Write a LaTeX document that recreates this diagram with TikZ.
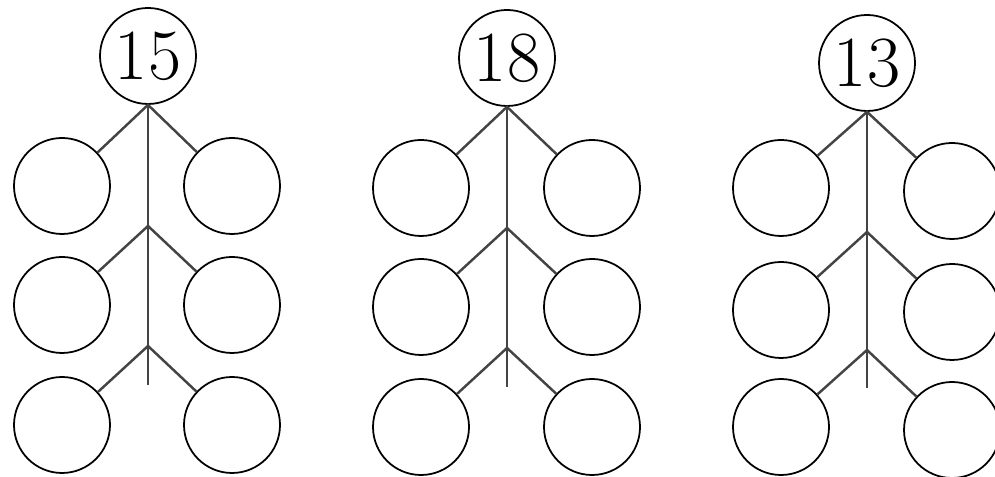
\documentclass[tikz,border=0pt]{standalone}
\usetikzlibrary{positioning}
\definecolor{cline}{HTML}{444444}
\tikzset{
  every picture/.style={line width=1pt},
  top/.style={draw=black, circle, inner sep=0pt, minimum size=1.92cm, font=\fontsize{41}{43}\selectfont},
  leaf/.style={draw=black, circle, inner sep=0pt, minimum size=1.92cm},
  stem/.style={draw=cline, line width=1.4pt},
}
\begin{document}
\begin{tikzpicture}
  \useasboundingbox (0,0) rectangle (19.9,9.54);
  % left: 15
  \node[top] (t1) at (2.96,8.42) {15};
  \node[leaf] (l1a) at (1.24,5.82) {}; \node[leaf] (r1a) at (4.64,5.82) {};
  \node[leaf] (l1b) at (1.24,3.44) {}; \node[leaf] (r1b) at (4.64,3.44) {};
  \node[leaf] (l1c) at (1.24,1.04) {}; \node[leaf] (r1c) at (4.64,1.04) {};
  \coordinate (b1) at (2.96,5.02); \coordinate (c1) at (2.96,2.62); \coordinate (e1) at (2.96,1.84);
  \draw[stem] (t1.south) -- (e1);
  \draw[stem] (l1a) -- (t1.south) -- (r1a);
  \draw[stem] (l1b) -- (b1) -- (r1b);
  \draw[stem] (l1c) -- (c1) -- (r1c);
  % middle: 18
  \node[top] (t2) at (10.14,8.38) {18};
  \node[leaf] (l2a) at (8.42,5.78) {}; \node[leaf] (r2a) at (11.84,5.78) {};
  \node[leaf] (l2b) at (8.42,3.40) {}; \node[leaf] (r2b) at (11.84,3.40) {};
  \node[leaf] (l2c) at (8.42,1.00) {}; \node[leaf] (r2c) at (11.84,1.00) {};
  \coordinate (b2) at (10.14,4.98); \coordinate (c2) at (10.14,2.58); \coordinate (e2) at (10.14,1.80);
  \draw[stem] (t2.south) -- (e2);
  \draw[stem] (l2a) -- (t2.south) -- (r2a);
  \draw[stem] (l2b) -- (b2) -- (r2b);
  \draw[stem] (l2c) -- (c2) -- (r2c);
  % right: 13
  \node[top] (t3) at (17.34,8.28) {13};
  \node[leaf] (l3a) at (15.62,5.78) {}; \node[leaf] (r3a) at (19.04,5.72) {};
  \node[leaf] (l3b) at (15.62,3.34) {}; \node[leaf] (r3b) at (19.04,3.30) {};
  \node[leaf] (l3c) at (15.62,1.00) {}; \node[leaf] (r3c) at (19.04,0.94) {};
  \coordinate (b3) at (17.34,4.90); \coordinate (c3) at (17.34,2.54); \coordinate (e3) at (17.34,1.78);
  \draw[stem] (t3.south) -- (e3);
  \draw[stem] (l3a) -- (t3.south) -- (r3a);
  \draw[stem] (l3b) -- (b3) -- (r3b);
  \draw[stem] (l3c) -- (c3) -- (r3c);
\end{tikzpicture}
\end{document}
